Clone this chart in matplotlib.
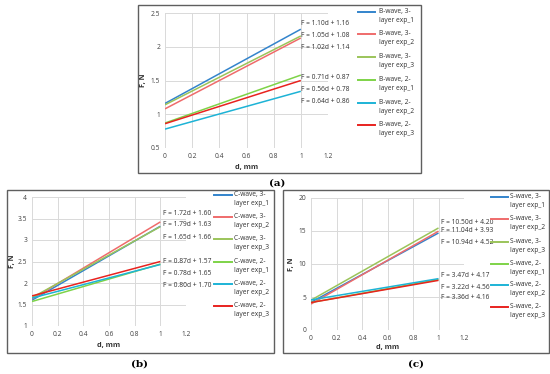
import matplotlib
matplotlib.use('Agg')
import matplotlib.pyplot as plt
from matplotlib.lines import Line2D
from matplotlib.patches import Rectangle
from matplotlib.ticker import FuncFormatter

W, H = 550, 374
plt.rcParams['font.family'] = ['Open Sans', 'DejaVu Sans']

# ---------------- data ----------------
d = [0, 1]
series_names = ["3-\nlayer exp_1", "3-\nlayer exp_2", "3-\nlayer exp_3",
                "2-\nlayer exp_1", "2-\nlayer exp_2", "2-\nlayer exp_3"]
colors = ['#3384CC', '#EF6B6B', '#9BC45A', '#7ED348', '#1DB3D6', '#E8231F']

b_wave = [[1.16, 2.26], [1.08, 2.13], [1.14, 2.16],
          [0.87, 1.58], [0.78, 1.34], [0.86, 1.50]]
c_wave = [[1.60, 3.32], [1.63, 3.42], [1.66, 3.31],
          [1.57, 2.44], [1.65, 2.43], [1.70, 2.50]]
s_wave = [[4.20, 14.70], [3.93, 14.97], [4.52, 15.46],
          [4.17, 7.64], [4.56, 7.78], [4.16, 7.52]]

b_eqs = ["F = 1.10d + 1.16", "F = 1.05d + 1.08", "F = 1.02d + 1.14",
         "F = 0.71d + 0.87", "F = 0.56d + 0.78", "F = 0.64d + 0.86"]
c_eqs = ["F = 1.72d + 1.60", "F = 1.79d + 1.63", "F = 1.65d + 1.66",
         "F = 0.87d + 1.57", "F = 0.78d + 1.65", "F = 0.80d + 1.70"]
s_eqs = ["F = 10.50d + 4.20", "F = 11.04d + 3.93", "F = 10.94d + 4.52",
         "F = 3.47d + 4.17", "F = 3.22d + 4.56", "F = 3.36d + 4.16"]

b_yticks = [0.5, 1, 1.5, 2, 2.5]
c_yticks = [1, 1.5, 2, 2.5, 3, 3.5, 4]
s_yticks = [0, 5, 10, 15, 20]
xticks = [0, 0.2, 0.4, 0.6, 0.8, 1, 1.2]

# ---------------- layout ----------------
panels = [
    dict(wave="B-wave", data=b_wave, eqs=b_eqs, yticks=b_yticks, tag="(a)",
         box=(138, 5, 421, 173), ax=(165, 13, 328, 148),
         eq_x=1.0, eq_y=[2.35, 2.17, 1.99, 1.55, 1.37, 1.19],
         leg_x=(358, 375, 379), leg_y=[12, 34, 57, 80, 103, 125],
         xlab_y=167, ylab_x=144, tag_xy=(277, 183)),
    dict(wave="C-wave", data=c_wave, eqs=c_eqs, yticks=c_yticks, tag="(b)",
         box=(7, 190, 274, 353), ax=(32, 197, 186, 326),
         eq_x=1.02, eq_y=[3.62, 3.37, 3.06, 2.50, 2.21, 1.95],
         leg_x=(214, 232, 234), leg_y=[195, 217, 239, 262, 284, 306],
         xlab_y=345, ylab_x=12, tag_xy=(139, 364)),
    dict(wave="S-wave", data=s_wave, eqs=s_eqs, yticks=s_yticks, tag="(c)",
         box=(283, 190, 549, 353), ax=(311, 198, 464, 330),
         eq_x=1.02, eq_y=[16.26, 15.05, 13.29, 8.23, 6.47, 4.95],
         leg_x=(491, 508, 510), leg_y=[197, 219, 242, 264, 285, 307],
         xlab_y=347, ylab_x=291, tag_xy=(416, 364)),
]

def fx(x):
    return x / W

def fy(y):
    return 1 - y / H

fig = plt.figure(figsize=(W / 100, H / 100), dpi=100)

fmt = FuncFormatter(lambda v, p: ('%g' % v))

for p in panels:
    bx0, by0, bx1, by1 = p['box']
    fig.add_artist(Rectangle((fx(bx0), fy(by1)), (bx1 - bx0) / W, (by1 - by0) / H,
                             transform=fig.transFigure, fill=False,
                             edgecolor='#5f5f5f', linewidth=1.0))
    ax0, ay0, ax1, ay1 = p['ax']
    ax = fig.add_axes([fx(ax0), fy(ay1), (ax1 - ax0) / W, (ay1 - ay0) / H])
    for vals, c in zip(p['data'], colors):
        ax.plot(d, vals, color=c, linewidth=1.1, solid_capstyle='butt')
    ax.set_xlim(0, 1.2)
    ax.set_ylim(p['yticks'][0], p['yticks'][-1])
    ax.set_xticks(xticks)
    ax.set_yticks(p['yticks'])
    ax.xaxis.set_major_formatter(fmt)
    ax.yaxis.set_major_formatter(fmt)
    ax.grid(True, color='#d9d9d9', linewidth=0.7)
    ax.set_axisbelow(True)
    for s in ax.spines.values():
        s.set_visible(False)
    ax.tick_params(length=0, labelsize=4.8, colors='#404040', pad=3.5)
    for e, ey in zip(p['eqs'], p['eq_y']):
        ax.text(p['eq_x'], ey, e, fontsize=4.8, color='#303030', va='center', ha='left')
    # axis labels
    fig.text(fx((ax0 + ax1) / 2), fy(p['xlab_y']), "d, mm", fontsize=5.2,
             fontweight='bold', ha='center', va='center', color='#303030')
    fig.text(fx(p['ylab_x']), fy((ay0 + ay1) / 2), "F, N", fontsize=5.2,
             fontweight='bold', ha='center', va='center', rotation=90, color='#303030')
    # legend
    lx0, lx1, lt = p['leg_x']
    for name, c, ly in zip(series_names, colors, p['leg_y']):
        fig.add_artist(Line2D([fx(lx0), fx(lx1)], [fy(ly), fy(ly)],
                              transform=fig.transFigure, color=c, linewidth=1.4))
        fig.text(fx(lt), fy(ly - 3.8), p['wave'] + ", " + name, fontsize=4.8,
                 ha='left', va='top', color='#303030', linespacing=1.35)
    fig.text(fx(p['tag_xy'][0]), fy(p['tag_xy'][1]), p['tag'], fontsize=7.5,
             fontweight='bold', family='DejaVu Serif', ha='center', va='center')

fig.savefig('out.png', dpi=100)
